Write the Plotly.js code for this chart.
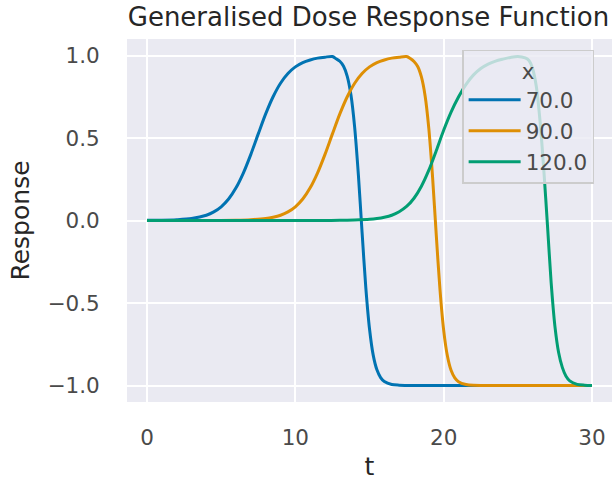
<!DOCTYPE html>
<html>
<head>
<meta charset="utf-8">
<script src="https://cdn.plot.ly/plotly-3.0.1.min.js"></script>
<style>html,body{margin:0;padding:0;background:#fff;}#chart{width:612px;height:481px;}</style>
</head>
<body>
<div id="chart"></div>
<script>
// Series: dose x = 70.0
const t70 = [0,1,2,3,4,4.5,5,5.5,6,6.5,7,7.5,8,8.5,9,9.5,10,10.5,11,11.5,12,12.5,12.75,13,13.25,13.5,13.75,14,14.25,14.5,14.75,15,15.25,15.5,15.75,16,16.5,17,18,20,22,24,26,28,30];
const y70 = [0.001,0.002,0.005,0.012,0.032,0.052,0.083,0.13,0.198,0.289,0.401,0.525,0.646,0.75,0.832,0.891,0.931,0.957,0.973,0.984,0.99,0.994,0.98,0.965,0.935,0.874,0.76,0.565,0.277,-0.072,-0.405,-0.656,-0.816,-0.905,-0.952,-0.976,-0.994,-0.998,-1,-1,-1,-1,-1,-1,-1];
// Series: dose x = 90.0
const t90 = [0,2,4,6,7,8,8.5,9,9.5,10,10.5,11,11.5,12,12.5,13,13.5,14,14.5,15,15.5,16,16.5,17,17.5,17.75,18,18.25,18.5,18.75,19,19.25,19.5,19.75,20,20.25,20.5,20.75,21,21.5,22,23,25,27,30];
const y90 = [0,0,0,0.002,0.005,0.012,0.02,0.032,0.052,0.083,0.13,0.198,0.289,0.401,0.525,0.646,0.75,0.832,0.891,0.931,0.957,0.973,0.984,0.99,0.994,0.982,0.964,0.933,0.87,0.755,0.557,0.266,-0.086,-0.416,-0.664,-0.82,-0.908,-0.954,-0.977,-0.994,-0.999,-1,-1,-1,-1];
// Series: dose x = 120.0
const t120 = [0,5,10,12,13,14,15,15.5,16,16.5,17,17.5,18,18.5,19,19.5,20,20.5,21,21.5,22,22.5,23,23.5,24,24.5,25,25.5,25.75,26,26.25,26.5,26.75,27,27.25,27.5,27.75,28,28.25,28.5,29,29.5,30];
const y120 = [0,0,0,0,0.001,0.003,0.007,0.012,0.02,0.032,0.053,0.085,0.135,0.208,0.305,0.423,0.547,0.657,0.748,0.824,0.881,0.921,0.948,0.966,0.978,0.988,0.994,0.985,0.97,0.92,0.81,0.6,0.31,-0.03,-0.38,-0.64,-0.8,-0.89,-0.944,-0.972,-0.993,-0.998,-1];

const seriesNames = ['70.0','90.0','120.0'];
const colors = ['#0173b2','#de8f05','#029e73'];
const xTicks = [0,10,20,30];
const yTicks = [-1,-0.5,0,0.5,1];
const yTickText = ['\u22121.0','\u22120.5','0.0','0.5','1.0'];

const FONT = 'DejaVu Sans, sans-serif';
const xs = [t70,t90,t120], ys = [y70,y90,y120];
const traces = xs.map((x,i)=>({
  x:x, y:ys[i], type:'scatter', mode:'lines', name:seriesNames[i],
  line:{color:colors[i], width:3, shape:'spline', smoothing:0.8}
}));

const layout = {
  width:612, height:481,
  margin:{l:127, r:0, t:39, b:79},
  paper_bgcolor:'#ffffff', plot_bgcolor:'#EAEAF2',
  font:{family:FONT, color:'#262626'},
  title:{text:'Generalised Dose Response Function', font:{family:FONT, size:26, color:'#262626'},
         xref:'container', x:0.6021, xanchor:'center', yref:'container', y:0.9657, yanchor:'middle'},
  xaxis:{range:[-1.35,31.35], tickvals:xTicks, showgrid:true, gridcolor:'#ffffff', gridwidth:2,
         zeroline:false, showline:false, ticks:'outside', ticklen:16, tickcolor:'rgba(0,0,0,0)',
         tickfont:{family:FONT, size:21.5, color:'#4a4a4a'},
         title:{text:'t', font:{family:FONT, size:25, color:'#262626'}, standoff:8}},
  yaxis:{range:[-1.1,1.1], tickvals:yTicks, ticktext:yTickText, showgrid:true, gridcolor:'#ffffff', gridwidth:2,
         zeroline:false, showline:false, ticks:'outside', ticklen:22, tickcolor:'rgba(0,0,0,0)',
         tickfont:{family:FONT, size:21.5, color:'#4a4a4a'},
         title:{text:'Response', font:{family:FONT, size:25, color:'#262626'}, standoff:10}},
  showlegend:true,
  legend:{x:0.691, y:0.97, xanchor:'left', yanchor:'top', bgcolor:'rgba(234,234,242,0.8)',
          bordercolor:'#cccccc', borderwidth:1.5, itemwidth:52,
          font:{family:FONT, size:21.5, color:'#4a4a4a'},
          title:{text:'x', side:'top center', font:{family:FONT, size:21.5, color:'#4a4a4a'}}}
};

Plotly.newPlot('chart', traces, layout, {displayModeBar:false, staticPlot:true});
</script>
</body>
</html>
